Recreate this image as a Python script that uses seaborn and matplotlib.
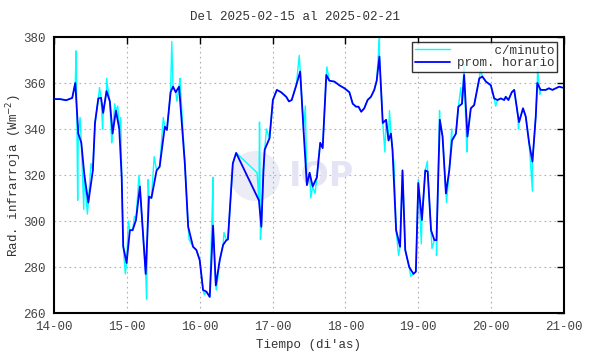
import matplotlib
matplotlib.use("Agg")
import matplotlib.pyplot as plt
import seaborn as sns
import pandas as pd
import numpy as np
from matplotlib.patches import Circle

# ---- data: hours since 14-00 (day 14 at 00h) ----
hourly_h = [0, 2, 4, 6, 7, 8, 9, 10, 11.3, 12.8, 13.5, 14.6, 15.5, 16.2, 17.3, 18.4, 19.3, 20.4,
            21.5, 22.3, 22.8, 23.9, 25, 25.9, 27, 28.3, 30.2, 31.3, 32.1, 33.8, 34.8, 36.5, 37.2,
            38.4, 39.2, 40.1, 41.2, 43.1, 44.2, 45.8, 46.9, 48, 49.1, 50.2, 51.3, 52.4, 53.3, 54.6,
            55.7, 56.8, 57.3, 58.9, 60, 67.5, 68.3, 69, 69.4, 71, 72.1, 73.4, 74.8, 76.5, 77.4, 78.3,
            79.8, 81.1, 82.2, 83.3, 84.2, 85.2, 86.6, 87.7, 88.5, 89.7, 90.7, 92.4, 94, 95.7, 97.3,
            98.4, 99.5, 100.3, 101.2, 102.2, 103.3, 104.4, 105.5, 106.3, 107.2, 108.3, 109.4, 110.2,
            111, 111.5, 112.7, 114, 114.8, 115.7, 117, 118.4, 119.2, 120, 121.2, 122.3, 123.1, 124.2,
            125.3, 126, 127.1, 128, 129.1, 130.2, 131.1, 132.4, 133.2, 134.4, 135.1, 136.2, 137.3,
            138.4, 140.1, 141.1, 142.3, 143.9, 145, 146.1, 147.2, 148.3, 148.8, 149.7, 150.8, 151.6,
            152.7, 153.2, 154.5, 155.4, 156.5, 157.6, 158.7, 159.2, 160.3, 162, 163, 164.2, 165.3,
            166.4, 167.5]
hourly_v = [353, 353, 352.5, 353.5, 360, 338, 334, 320, 308, 322, 342.6, 353.3, 353.6, 347, 356.5,
            352, 338, 348, 340, 319, 289, 281.7, 296, 296, 300.4, 315, 277, 310.6, 310, 322, 323.6,
            341, 339.6, 356, 358.4, 356, 358.4, 325, 297.5, 288.8, 287.4, 283, 270, 269.3, 267, 298,
            272, 283, 289.6, 291.7, 292, 325, 329.6, 309, 297.5, 322, 331, 336, 352.6, 357, 356, 354,
            352, 352.6, 359, 365, 339.6, 315.6, 321, 315, 319, 334, 331.7, 363.5, 361, 360.6, 359,
            357.7, 356, 351, 349.7, 349.7, 347.5, 349, 352.6, 354, 357, 361, 371.5, 342.6, 344, 335,
            338, 331, 296, 288.8, 322, 287.4, 280, 277, 278, 316.5, 300.4, 322, 321.5, 296, 291.7,
            291.7, 344, 336.7, 312, 322, 335, 338, 349.7, 351, 363.5, 336.7, 349, 350.4, 362, 362.8,
            360.6, 359, 353.3, 352.6, 353.3, 352.6, 354, 352.6, 356, 357, 347, 343, 349, 345.4, 334,
            325.8, 345.4, 360, 357, 357, 357.7, 357, 357.7, 358.4, 358]

# per-minute extremes (added to the hourly track)
minute_extra_h = [7.3, 7.8, 8.6, 9.8, 11.0, 12.2, 15.0, 16.0, 17.3, 19.0, 20.0, 21.0, 22.0, 23.5,
                  24.5, 26.5, 28.0, 29.0, 30.5, 31.0, 33.0, 36.0, 38.8, 40.5, 41.5, 44.5, 49.5,
                  52.4, 53.5, 56.0, 66.9, 67.7, 68.0, 70.0, 80.8, 82.8, 84.6, 86.0, 87.0, 89.9,
                  107.2, 108.0, 109.0, 110.5, 112.0, 113.5, 117.5, 120.0, 121.0, 123.0, 124.5,
                  126.0, 127.0, 129.3, 131.0, 134.0, 135.1, 136.0, 140.5, 145.5, 153.0, 157.6,
                  159.3, 160.0]
minute_extra_v = [374, 309, 345, 305, 303, 325, 358, 340, 362, 334, 351, 350, 345, 277, 300, 302,
                  320, 300, 266, 318, 328, 345, 378, 352, 362, 292, 268, 319, 270, 295, 321, 343,
                  292, 340, 372, 350, 310, 312, 326, 367, 380, 350, 330, 348, 325, 285, 276, 318,
                  290, 326, 288, 285, 348, 308, 340, 358, 368, 330, 366, 350, 340, 313, 367, 355]

x_ticks_days = [14, 15, 16, 17, 18, 19, 20, 21]
x_tick_labels = ["14-00", "15-00", "16-00", "17-00", "18-00", "19-00", "20-00", "21-00"]
y_ticks = [260, 280, 300, 320, 340, 360, 380]

df_h = pd.DataFrame({"t": 14 + np.array(hourly_h) / 24.0, "v": hourly_v})
df_m = pd.DataFrame({"t": 14 + np.array(hourly_h + minute_extra_h) / 24.0,
                     "v": hourly_v + minute_extra_v}).sort_values("t")

sns.set_style("white")
plt.rcParams["font.family"] = ["Liberation Mono", "DejaVu Sans Mono"]

fig = plt.figure(figsize=(5.9, 3.54), dpi=100)
ax = fig.add_axes([54 / 590, 1 - 313 / 354, 510 / 590, 276 / 354])

# watermark (behind the data)
circ = Circle((255, 354 - 176), 25, transform=None, facecolor="#ececf7", edgecolor="none",
              zorder=0.5)
ax.add_patch(circ)
ax.text(322 / 590, 1 - 177 / 354, "IOP", transform=fig.transFigure, ha="center", va="center",
        fontsize=24, fontweight="bold", color="#e4e4f4", family="DejaVu Sans", zorder=0.6)

sns.lineplot(data=df_m, x="t", y="v", ax=ax, color="#00ffff", lw=1.0, estimator=None,
             sort=False, label="     c/minuto", zorder=2)
sns.lineplot(data=df_h, x="t", y="v", ax=ax, color="#0000ff", lw=1.3, estimator=None,
             sort=False, label="prom. horario", zorder=3)

ax.set_xlim(14, 21)
ax.set_ylim(260, 380)
ax.set_xticks(x_ticks_days)
ax.set_xticklabels(x_tick_labels)
ax.set_yticks(y_ticks)
ax.grid(True, color="#b0b0b0", ls=(0, (1.5, 3)), lw=0.8)
ax.set_axisbelow(True)
ax.tick_params(direction="in", length=5, width=1, top=True, right=True, colors="black",
               labelcolor="#444444", labelsize=9, pad=6)
for s in ax.spines.values():
    s.set_color("black")
    s.set_linewidth(1.5)

ax.set_xlabel("Tiempo (di'as)", fontsize=9, color="#333333", labelpad=4)
ax.set_ylabel("Rad. infrarroja (Wm$^{-2}$)", fontsize=9, color="#333333")
ax.yaxis.label.set_va("center")
ax.yaxis.set_label_coords((14 - 54) / 510, 0.5)
fig.text(0.5, 1 - 17 / 354, "Del 2025-02-15 al 2025-02-21", ha="center", va="center",
         fontsize=9, color="#333333")

leg = ax.legend(loc="upper right", bbox_to_anchor=((557 - 54) / 510, (313 - 42) / 276),
                borderaxespad=0, frameon=True, fancybox=False, fontsize=9, handlelength=2.8,
                labelspacing=0.05, borderpad=0.2, handletextpad=0.6)
leg.get_frame().set_edgecolor("black")
leg.get_frame().set_linewidth(1.0)
leg.set_zorder(5)
for t in leg.get_texts():
    t.set_color("#333333")

fig.savefig("out.png", dpi=100)
